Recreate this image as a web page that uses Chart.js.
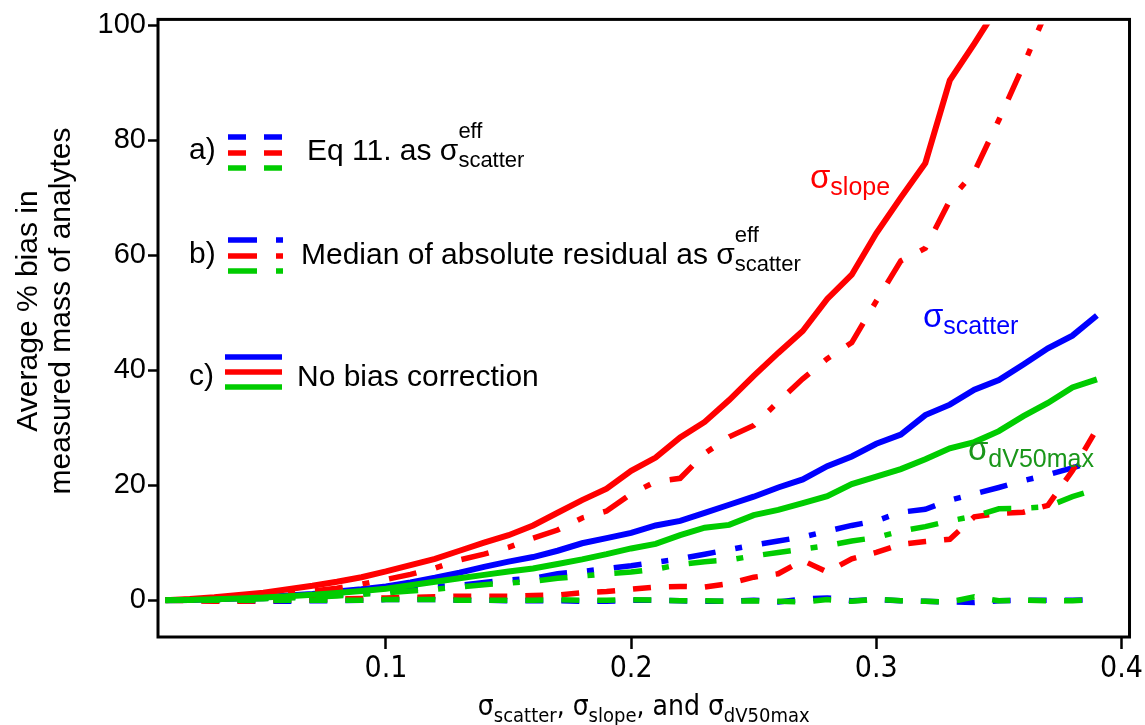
<!DOCTYPE html>
<html>
<head>
<meta charset="utf-8">
<title>Average % bias vs sigma</title>
<script src="https://cdn.jsdelivr.net/npm/chart.js@4.4.0/dist/chart.umd.min.js"></script>
<style>
  html, body { margin: 0; padding: 0; background: #fff; }
  #wrap { width: 1145px; height: 725px; }
</style>
</head>
<body>
<div id="wrap"><canvas id="biasChart" width="1145" height="725"></canvas></div>
<script>
// sigma values on the x axis
const sigmaValues = [0.01, 0.02, 0.03, 0.04, 0.05, 0.06, 0.07, 0.08, 0.09, 0.10,
  0.11, 0.12, 0.13, 0.14, 0.15, 0.16, 0.17, 0.18, 0.19, 0.20,
  0.21, 0.22, 0.23, 0.24, 0.25, 0.26, 0.27, 0.28, 0.29, 0.30,
  0.31, 0.32, 0.33, 0.34, 0.35, 0.36, 0.37, 0.38, 0.39];

// c) no bias correction (solid)
const scatterNone = [0, 0.05, 0.15, 0.3, 0.5, 0.8, 1.1, 1.5, 1.9, 2.4,
  3.1, 3.9, 4.8, 5.8, 6.7, 7.5, 8.6, 9.9, 10.8, 11.7,
  13.0, 13.8, 15.2, 16.6, 18.0, 19.6, 21.0, 23.3, 25.0, 27.2,
  28.8, 32.2, 34.0, 36.6, 38.3, 41.0, 43.8, 46.0, 49.5];
const slopeNone = [0, 0.2, 0.5, 0.9, 1.3, 1.9, 2.5, 3.2, 4.0, 5.0,
  6.1, 7.2, 8.6, 10.0, 11.3, 13.0, 15.2, 17.4, 19.4, 22.5,
  24.8, 28.3, 31.0, 34.8, 39.0, 43.0, 46.8, 52.4, 56.6, 63.8,
  70.0, 76.0, 90.4, 96.8, 103.5, null, null, null, null];
const dv50None = [0, 0.05, 0.15, 0.3, 0.45, 0.7, 0.95, 1.25, 1.6, 2.0,
  2.6, 3.2, 3.8, 4.4, 5.0, 5.5, 6.3, 7.1, 8.0, 9.0,
  9.8, 11.3, 12.6, 13.1, 14.8, 15.7, 16.9, 18.1, 20.2, 21.5,
  22.8, 24.5, 26.4, 27.5, 29.4, 32.0, 34.3, 37.0, 38.4];

// b) median of absolute residual (dash-dot)
const scatterMedian = [0, 0, 0.1, 0.2, 0.3, 0.5, 0.7, 0.9, 1.2, 1.6,
  2.0, 2.4, 2.6, 3.1, 3.5, 3.8, 4.6, 5.0, 5.5, 6.0,
  6.6, 7.2, 8.0, 8.8, 9.6, 10.3, 11.0, 12.0, 13.0, 13.8,
  15.3, 15.8, 17.4, 18.5, 19.6, 20.8, 21.8, 23.0, 24.4];
const slopeMedian = [0, 0.1, 0.3, 0.5, 0.8, 1.2, 1.6, 2.1, 2.8, 3.6,
  4.5, 5.6, 7.0, 8.0, 9.2, 10.8, 12.2, 14.3, 15.5, 18.5,
  20.6, 21.2, 25.5, 28.4, 30.4, 34.5, 38.5, 42.0, 44.8, 52.0,
  59.0, 61.2, 69.5, 74.5, 83.5, 93.0, 103.0, null, null];
const dv50Median = [0, 0, 0.1, 0.15, 0.25, 0.4, 0.55, 0.75, 1.0, 1.3,
  1.6, 1.9, 2.3, 2.7, 3.0, 3.3, 3.8, 4.2, 4.6, 4.9,
  5.4, 6.2, 6.7, 7.0, 7.7, 8.3, 8.9, 9.5, 10.3, 10.9,
  12.0, 12.8, 13.8, 14.6, 15.9, 16.0, 16.3, 18.0, 19.3];

// a) Eq 11 as sigma_eff (dashed)
const scatterEq11 = [0, 0, -0.1, -0.1, -0.2, -0.2, -0.1, -0.1, 0, 0.1,
  0.1, 0.1, 0, 0, -0.1, -0.1, -0.1, -0.2, -0.2, 0,
  0, -0.1, -0.2, -0.2, 0, -0.3, 0.2, 0.4, -0.1, 0.1,
  -0.1, -0.2, -0.3, -0.4, -0.1, 0, 0, 0, 0.1];
const slopeEq11 = [0, -0.1, -0.2, -0.2, -0.1, 0, 0.1, 0.2, 0.3, 0.4,
  0.5, 0.6, 0.7, 0.7, 0.7, 0.8, 0.9, 1.3, 1.5, 1.9,
  2.3, 2.4, 2.3, 2.9, 4.0, 4.6, 6.9, 4.9, 7.2, 8.3,
  9.7, 10.2, 10.6, 14.5, 15.1, 15.3, 16.5, 22.5, 29.8];
const dv50Eq11 = [0, 0, 0, 0, 0, 0, 0, 0, 0, 0.1,
  0.1, 0.1, 0, 0, 0, 0, 0.1, 0, 0, 0.1,
  0, -0.1, -0.1, -0.2, -0.1, -0.2, -0.3, 0.1, -0.2, 0.2,
  -0.1, -0.2, -0.3, 0.6, -0.1, 0, -0.1, -0.1, 0.1];

const xTickValues = [0.1, 0.2, 0.3, 0.4];
const yTickValues = [0, 20, 40, 60, 80, 100];

const BLUE = '#0000ff';
const RED = '#ff0000';
const GREEN = '#00cc00';
const LABEL_GREEN = '#1a961a';
const FONT = '"Liberation Sans", Arial, sans-serif';
const NARROW = '"Liberation Sans Narrow", "DejaVu Sans Condensed", "Liberation Sans", sans-serif';

const DASHED = [18, 18];
const DASH_DOT = [28, 20, 7, 20];

function toPoints(values) {
  return sigmaValues.map((x, i) => ({ x: x, y: values[i] }));
}

function series(label, values, color, dash) {
  return {
    label: label,
    data: toPoints(values),
    borderColor: color,
    backgroundColor: color,
    borderWidth: dash.length ? 5.5 : 6,
    borderDash: dash,
    borderCapStyle: 'butt',
    borderJoinStyle: 'miter',
    pointRadius: 0,
    tension: 0,
    spanGaps: false,
    clip: { left: 0, top: -5, right: 0, bottom: 0 }
  };
}

// draws sigma with subscript / superscript, returns the x after it
function drawSigma(ctx, x, y, opts) {
  ctx.fillStyle = opts.color;
  ctx.textAlign = 'left';
  ctx.textBaseline = 'alphabetic';
  ctx.font = opts.size + 'px ' + opts.family;
  ctx.fillText('σ', x, y);
  const w = ctx.measureText('σ').width;
  ctx.font = opts.subSize + 'px ' + opts.family;
  let extra = 0;
  if (opts.sub) {
    ctx.fillText(opts.sub, x + w, y + opts.subDrop);
    extra = ctx.measureText(opts.sub).width;
  }
  if (opts.sup) {
    ctx.fillText(opts.sup, x + w, y - opts.supRise);
    extra = Math.max(extra, ctx.measureText(opts.sup).width);
  }
  return x + w + extra;
}

const annotations = {
  id: 'annotations',
  afterDatasetsDraw(chart) {
    const ctx = chart.ctx;
    const area = chart.chartArea;
    ctx.save();

    // frame
    ctx.strokeStyle = '#000';
    ctx.lineWidth = 3;
    ctx.strokeRect(area.left, area.top, area.right - area.left, area.bottom - area.top);

    // curve labels
    const lab = { family: FONT, size: 33, subSize: 25, subDrop: 7 };
    drawSigma(ctx, 810, 188, Object.assign({}, lab, { color: RED, sub: 'slope' }));
    drawSigma(ctx, 923, 327, Object.assign({}, lab, { color: BLUE, sub: 'scatter' }));
    drawSigma(ctx, 968, 460, Object.assign({}, lab, { color: LABEL_GREEN, sub: 'dV50max' }));

    // legend block
    const colors = [BLUE, RED, GREEN];
    const rows = [
      { tag: 'a)', base: 159, ys: [137, 153, 168], x0: 228, x1: 282, dash: DASHED,
        text: 'Eq 11. as ', tx: 307, eff: true },
      { tag: 'b)', base: 263, ys: [240, 256, 271], x0: 228, x1: 283, dash: [29, 19, 7, 20],
        text: 'Median of absolute residual as ', tx: 301, eff: true },
      { tag: 'c)', base: 385, ys: [357, 372, 387], x0: 225, x1: 282, dash: [],
        text: 'No bias correction', tx: 297, eff: false }
    ];
    rows.forEach(r => {
      ctx.font = '30px ' + FONT;
      ctx.fillStyle = '#000';
      ctx.textAlign = 'left';
      ctx.textBaseline = 'alphabetic';
      ctx.fillText(r.tag, 189, r.base);
      ctx.lineWidth = 5.5;
      ctx.lineCap = 'butt';
      ctx.setLineDash(r.dash);
      r.ys.forEach((yy, k) => {
        ctx.strokeStyle = colors[k];
        ctx.beginPath();
        ctx.moveTo(r.x0, yy);
        ctx.lineTo(r.x1, yy);
        ctx.stroke();
      });
      ctx.setLineDash([]);
      ctx.font = '30px ' + FONT;
      ctx.fillText(r.text, r.tx, r.base + 1);
      if (r.eff) {
        const sx = r.tx + ctx.measureText(r.text).width;
        drawSigma(ctx, sx, r.base + 1, { family: FONT, size: 30, subSize: 22, color: '#000',
          sub: 'scatter', subDrop: 7, sup: 'eff', supRise: 22 });
      }
    });

    // x axis title
    const xt = { family: NARROW, size: 28, subSize: 20, subDrop: 7, color: '#000' };
    const parts = [['σ', 'scatter'], [', ', null], ['σ', 'slope'], [', and ', null], ['σ', 'dV50max']];
    let total = 0;
    parts.forEach(p => {
      ctx.font = xt.size + 'px ' + NARROW;
      total += ctx.measureText(p[0]).width;
      if (p[1]) {
        ctx.font = xt.subSize + 'px ' + NARROW;
        total += ctx.measureText(p[1]).width;
      }
    });
    let cx = (area.left + area.right) / 2 - total / 2;
    const by = 715;
    parts.forEach(p => {
      if (p[1]) {
        cx = drawSigma(ctx, cx, by, Object.assign({}, xt, { sub: p[1] }));
      } else {
        ctx.font = xt.size + 'px ' + NARROW;
        ctx.fillStyle = '#000';
        ctx.fillText(p[0], cx, by);
        cx += ctx.measureText(p[0]).width;
      }
    });

    // y axis title
    ctx.translate(0, 311);
    ctx.rotate(-Math.PI / 2);
    ctx.font = '30px ' + FONT;
    ctx.fillStyle = '#000';
    ctx.textAlign = 'center';
    ctx.textBaseline = 'middle';
    ctx.fillText('Average % bias in', 0, 29);
    ctx.fillText('measured mass of analytes', 0, 62);
    ctx.restore();
  }
};

const ctx = document.getElementById('biasChart').getContext('2d');
new Chart(ctx, {
  type: 'line',
  data: {
    datasets: [
      series('σdV50max, Eq 11', dv50Eq11, GREEN, DASHED),
      series('σdV50max, median', dv50Median, GREEN, DASH_DOT),
      series('σdV50max, none', dv50None, GREEN, []),
      series('σslope, Eq 11', slopeEq11, RED, DASHED),
      series('σslope, median', slopeMedian, RED, DASH_DOT),
      series('σslope, none', slopeNone, RED, []),
      series('σscatter, Eq 11', scatterEq11, BLUE, DASHED),
      series('σscatter, median', scatterMedian, BLUE, DASH_DOT),
      series('σscatter, none', scatterNone, BLUE, [])
    ]
  },
  options: {
    responsive: false,
    animation: false,
    devicePixelRatio: 1,
    layout: { padding: { top: 18, right: 15, left: 0, bottom: 0 } },
    plugins: {
      legend: { display: false },
      tooltip: { enabled: false }
    },
    scales: {
      x: {
        type: 'linear',
        min: 0.007,
        max: 0.4033,
        afterBuildTicks: scale => { scale.ticks = xTickValues.map(v => ({ value: v })); },
        afterFit: scale => { scale.height = 88; },
        border: { display: false },
        grid: { drawOnChartArea: false, drawTicks: true, tickLength: 12, tickWidth: 2.5, tickColor: '#000' },
        ticks: {
          color: '#000',
          padding: 2,
          autoSkip: false,
          maxRotation: 0,
          font: { family: NARROW, size: 30 },
          callback: v => v.toFixed(1)
        }
      },
      y: {
        min: -6.4,
        max: 101,
        afterBuildTicks: scale => { scale.ticks = yTickValues.map(v => ({ value: v })); },
        afterFit: scale => { scale.width = 158; },
        border: { display: false },
        grid: { drawOnChartArea: false, drawTicks: true, tickLength: 10, tickWidth: 2.5, tickColor: '#000' },
        ticks: {
          color: '#000',
          padding: 2,
          font: { family: FONT, size: 29 },
          callback: v => String(v)
        }
      }
    }
  },
  plugins: [annotations]
});
</script>
</body>
</html>
